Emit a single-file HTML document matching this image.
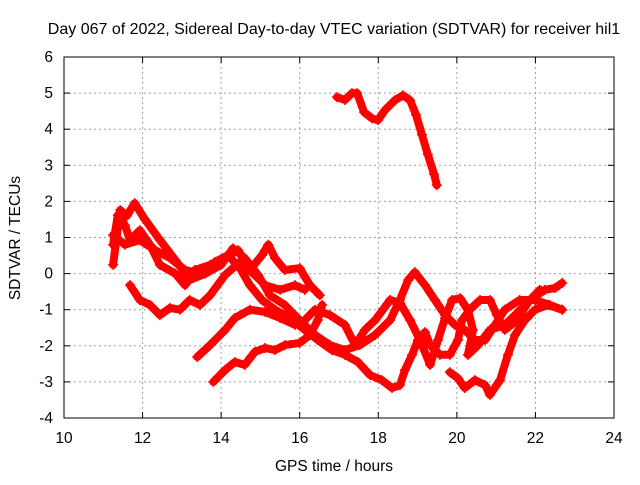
<!DOCTYPE html>
<html><head><meta charset="utf-8"><style>
body{margin:0;background:#fff}
svg text{font-family:"Liberation Sans",sans-serif;font-size:15.5px;fill:#000}
</style></head><body>
<svg id="chart" width="640" height="480" xmlns="http://www.w3.org/2000/svg">
<text x="334" y="34" text-anchor="middle" style="font-size:16px">Day 067 of 2022, Sidereal Day-to-day VTEC variation (SDTVAR) for receiver hil1</text>
<text x="334" y="471" text-anchor="middle">GPS time / hours</text>
<text transform="translate(20,238) rotate(-90)" text-anchor="middle">SDTVAR / TECUs</text>
<g id="grid"></g>
<g id="series"></g>
<rect x="64" y="57" width="550" height="361" fill="none" stroke="#000" stroke-width="1"/>
<g id="ticks"></g>
</svg>
<script>
const xTicks=[10,12,14,16,18,20,22,24];
const yTicks=[-4,-3,-2,-1,0,1,2,3,4,5,6];
const traceA=[[16.95,4.89],[17.15,4.81],[17.33,5.0],[17.46,5.0],[17.64,4.47],[17.84,4.3],[17.99,4.25],[18.17,4.53],[18.42,4.8],[18.63,4.94],[18.81,4.8],[18.96,4.4],[19.11,3.85],[19.26,3.3],[19.42,2.75],[19.49,2.45]];
const traceB=[[11.25,0.24],[11.43,1.76],[11.6,1.6],[11.8,1.95],[12.06,1.5],[12.44,0.93],[12.83,0.38],[13.2,-0.18],[13.6,0],[14.0,0.24],[14.3,0.7],[14.6,0.43],[14.94,-0.04],[15.24,-0.6],[15.62,-0.87],[16.0,-1.29],[16.39,-1.7],[16.77,-1.98],[17.15,-2.12],[17.53,-1.98],[17.92,-1.7],[18.3,-1.29],[18.55,-0.73],[18.76,-0.18],[18.93,0.04],[19.19,-0.32],[19.44,-0.73],[19.7,-1.15],[19.95,-1.42],[20.2,-1.56],[20.46,-1.84],[20.72,-1.84],[20.97,-1.42],[21.22,-1.0],[21.6,-0.73],[21.99,-0.73],[22.37,-0.87],[22.68,-1.0]];
const traceC=[[11.25,1.07],[11.55,0.8],[11.93,0.93],[12.32,0.65],[12.7,0.43],[13.08,0.1],[13.46,0],[13.84,0.32],[14.17,0.51],[14.48,0.15],[14.73,-0.32],[15.04,-0.73],[15.37,-1.0],[15.75,-1.23],[16.13,-1.56],[16.46,-1.84],[16.82,-2.12],[17.15,-2.25],[17.48,-2.45],[17.79,-2.81],[18.09,-2.95],[18.35,-3.17],[18.55,-3.09],[18.68,-2.67],[18.86,-2.25],[19.01,-1.84],[19.19,-1.62],[19.32,-1.98],[19.57,-2.25],[19.82,-2.25],[20.03,-1.84],[20.13,-1.29],[20.33,-1.0],[20.59,-0.73],[20.84,-0.73],[21.02,-1.15],[21.22,-1.56],[21.48,-1.34],[21.86,-0.73],[22.24,-0.45],[22.5,-0.4],[22.68,-0.26]];
const traceD=[[11.68,-0.32],[11.93,-0.73],[12.19,-0.87],[12.44,-1.15],[12.7,-0.95],[12.95,-1.0],[13.2,-0.73],[13.46,-0.87],[13.72,-0.6],[14.1,-0.04],[14.48,0.32],[14.86,-0.04],[15.12,-0.32],[15.5,-0.45],[15.88,-0.32],[16.13,-0.45]];
const traceE=[[13.39,-2.31],[13.72,-1.98],[14.1,-1.56],[14.35,-1.23],[14.73,-1.0],[15.12,-1.06],[15.5,-1.23],[15.88,-1.42],[16.13,-1.29],[16.39,-1.0],[16.77,-1.15],[17.15,-1.42],[17.41,-1.98],[17.66,-1.56],[17.92,-1.29],[18.3,-0.73],[18.55,-0.81],[18.81,-1.29],[19.06,-1.84],[19.32,-2.53],[19.52,-1.84],[19.7,-1.23],[19.88,-0.73],[20.08,-0.68],[20.28,-1.0],[20.41,-1.56],[20.28,-2.25],[20.54,-1.98],[20.84,-1.56],[21.22,-1.42],[21.48,-1.15],[21.81,-0.79],[22.11,-0.45]];
const traceF=[[13.8,-3.0],[14.1,-2.67],[14.35,-2.45],[14.6,-2.53],[14.86,-2.17],[15.12,-2.06],[15.37,-2.12],[15.62,-1.98],[16.0,-1.92],[16.26,-1.7],[16.46,-1.29],[16.57,-0.87]];
const traceG=[[19.82,-2.73],[20.03,-2.9],[20.2,-3.17],[20.46,-2.95],[20.72,-3.09],[20.84,-3.36],[21.1,-2.95],[21.3,-2.25],[21.48,-1.7],[21.73,-1.29],[21.99,-1.0],[22.32,-0.87],[22.68,-1.0]];
const traceH=[[11.25,0.8],[11.37,1.62],[11.55,1.34],[11.68,0.93],[11.93,1.2],[12.19,0.8],[12.44,0.24],[12.83,0],[13.08,-0.32],[13.33,0.1],[13.72,0.24],[14.1,0.43],[14.43,0.65],[14.73,0.1],[15.04,0.51],[15.2,0.8],[15.37,0.43],[15.62,0.1],[16.0,0.15],[16.26,-0.32],[16.51,-0.6]];
const traces=[traceA,traceB,traceC,traceD,traceE,traceF,traceG,traceH];
const NS="http://www.w3.org/2000/svg";
const X0=64,X1=614,Y0=418,Y1=57;
function sx(h){return X0+(h-10)/(24-10)*(X1-X0);}
function sy(v){return Y0-(v+4)/(6+4)*(Y0-Y1);}
const grid=document.getElementById('grid'),ticks=document.getElementById('ticks'),ser=document.getElementById('series'),svg=document.getElementById('chart');
function mk(t,a,p){const e=document.createElementNS(NS,t);for(const k in a)e.setAttribute(k,a[k]);p.appendChild(e);return e;}
xTicks.forEach(t=>{const x=sx(t);
 if(t>10&&t<24){const g=mk('line',{x1:x,x2:x,y1:Y1,y2:Y0,stroke:'#a0a0a0','stroke-dasharray':'2,3'},grid);}
 const a=mk('line',{x1:x,x2:x,y1:Y0,y2:Y0-6,stroke:'#000'},ticks);
 const b=mk('line',{x1:x,x2:x,y1:Y1,y2:Y1+6,stroke:'#000'},ticks);
 const l=mk('text',{x:x,y:443,'text-anchor':'middle'},svg);l.textContent=t;});
yTicks.forEach(t=>{const y=sy(t);
 if(t>-4&&t<6){const g=mk('line',{x1:X0,x2:X1,y1:y,y2:y,stroke:'#a0a0a0','stroke-dasharray':'2,3'},grid);}
 const a=mk('line',{x1:X0,x2:X0+6,y1:y,y2:y,stroke:'#000'},ticks);
 const b=mk('line',{x1:X1,x2:X1-6,y1:y,y2:y,stroke:'#000'},ticks);
 const l=mk('text',{x:53,y:y+5,'text-anchor':'end'},svg);l.textContent=t;});
traces.forEach((tr,i)=>{
 const d=tr.map((p,j)=>(j?'L':'M')+sx(p[0]).toFixed(1)+','+sy(p[1]).toFixed(1)).join(' ');
 const pa=mk('path',{d:d,fill:'none',stroke:'#ff0000','stroke-width':8,'stroke-linejoin':'round','stroke-linecap':'round'},ser);
 
 
 tr.forEach(p=>{const x=sx(p[0]),y=sy(p[1]);
  const m=mk('path',{d:`M${x-5},${y}H${x+5}M${x},${y-5}V${y+5}`,stroke:'#ff0000','stroke-width':1.5},ser);
  
  });
});
</script>
</body></html>
